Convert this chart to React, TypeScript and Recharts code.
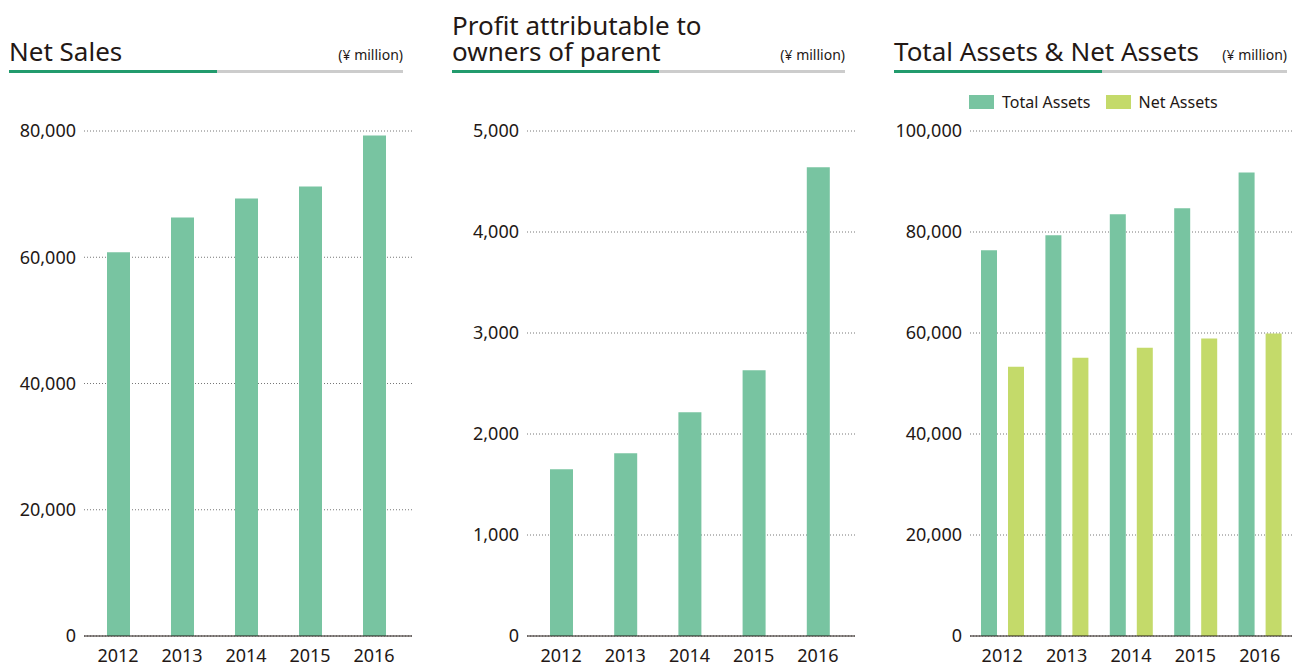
import { BarChart, Bar, CartesianGrid, XAxis, YAxis } from "recharts";

const years = ["2012", "2013", "2014", "2015", "2016"];
const netSales = [60800, 66300, 69300, 71200, 79300];
const profit = [1650, 1810, 2215, 2630, 4640];
const totalAssets = [76400, 79350, 83500, 84700, 91800];
const netAssets = [53300, 55100, 57100, 58900, 59900];

const salesTicks = [0, 20000, 40000, 60000, 80000];
const profitTicks = [0, 1000, 2000, 3000, 4000, 5000];
const assetTicks = [0, 20000, 40000, 60000, 80000, 100000];

const assetSeries = [
  { key: "Total Assets", color: "#78c4a1" },
  { key: "Net Assets", color: "#c4da6a" },
];

const GREEN = "#78c4a1";
const INK = "#231815";
const FONT = "'Noto Sans', sans-serif";

const salesData = years.map((year, i) => ({ year, value: netSales[i] }));
const profitData = years.map((year, i) => ({ year, value: profit[i] }));
const assetData = years.map((year, i) => ({
  year,
  "Total Assets": totalAssets[i],
  "Net Assets": netAssets[i],
}));

const fmt = (v: number) => v.toLocaleString("en-US");

const tickStyle = { fill: INK, fontSize: 18, fontFamily: FONT };

function Header({
  x,
  width,
  lines,
  split,
}: {
  x: number;
  width: number;
  lines: string[];
  split: number;
}) {
  return (
    <g>
      {lines.map((line, i) => (
        <text
          key={line}
          x={x}
          y={61 - (lines.length - 1 - i) * 26}
          fontSize={26}
          fill={INK}
          fontFamily={FONT}
        >
          {line}
        </text>
      ))}
      <text
        x={x + width}
        y={60}
        fontSize={14}
        fill={INK}
        fontFamily={FONT}
        textAnchor="end"
      >
        (¥ million)
      </text>
      <rect x={x} y={70} width={width} height={3} fill="#cccccc" />
      <rect x={x} y={70} width={split} height={3} fill="#229b6d" />
    </g>
  );
}

function Panel({
  left,
  width,
  yWidth,
  right,
  ticks,
  data,
  children,
  padding,
  barGap,
}: any) {
  return (
    <div style={{ position: "absolute", left, top: 80 }}>
      <BarChart
        width={width}
        height={586}
        data={data}
        margin={{ top: 51, right, bottom: 0, left: 0 }}
        barGap={barGap}
      >
        <CartesianGrid
          vertical={false}
          stroke="#777"
          strokeDasharray="1 2"
        />
        <XAxis
          dataKey="year"
          height={30}
          tickLine={false}
          tickMargin={7}
          axisLine={{ stroke: INK }}
          tick={tickStyle}
          padding={padding}
        />
        <YAxis
          width={yWidth}
          domain={[0, ticks[ticks.length - 1]]}
          ticks={ticks}
          tickFormatter={fmt}
          axisLine={false}
          tickLine={false}
          tick={tickStyle}
          interval={0}
        />
        {children}
      </BarChart>
    </div>
  );
}

export default function App() {
  return (
    <div
      style={{
        position: "absolute",
        left: 0,
        top: 0,
        width: 1292,
        height: 666,
        background: "#fff",
        fontFamily: FONT,
      }}
    >
      <svg
        width={1292}
        height={80}
        style={{ position: "absolute", left: 0, top: 0 }}
      >
        <Header x={9} width={394} split={208} lines={["Net Sales"]} />
        <Header
          x={452}
          width={393}
          split={207}
          lines={["Profit attributable to", "owners of parent"]}
        />
        <Header
          x={894}
          width={393}
          split={208}
          lines={["Total Assets & Net Assets"]}
        />
      </svg>

      <div
        style={{
          position: "absolute",
          left: 969,
          top: 91,
          display: "flex",
          alignItems: "center",
          fontSize: 16,
          color: INK,
          whiteSpace: "nowrap",
        }}
      >
        {assetSeries.map((s, i) => (
          <div
            key={s.key}
            style={{
              display: "flex",
              alignItems: "center",
              marginRight: i === 0 ? 15 : 0,
            }}
          >
            <span
              style={{
                display: "inline-block",
                width: 25,
                height: 14,
                background: s.color,
                marginRight: 8,
              }}
            />
            {s.key}
          </div>
        ))}
      </div>

      <Panel
        left={0}
        width={420}
        yWidth={84}
        right={8}
        ticks={salesTicks}
        data={salesData}
        padding={{ left: 2, right: 6 }}
      >
        <Bar
          dataKey="value"
          fill={GREEN}
          barSize={23}
          isAnimationActive={false}
        />
      </Panel>

      <Panel
        left={440}
        width={420}
        yWidth={87}
        right={5}
        ticks={profitTicks}
        data={profitData}
        padding={{ left: 2, right: 5 }}
      >
        <Bar
          dataKey="value"
          fill={GREEN}
          barSize={23}
          isAnimationActive={false}
        />
      </Panel>

      <Panel
        left={880}
        width={412}
        yWidth={90}
        right={0}
        ticks={assetTicks}
        data={assetData}
        padding={{ left: 0, right: 0 }}
        barGap={11}
      >
        {assetSeries.map((s) => (
          <Bar
            key={s.key}
            dataKey={s.key}
            fill={s.color}
            barSize={16}
            isAnimationActive={false}
          />
        ))}
      </Panel>
    </div>
  );
}
